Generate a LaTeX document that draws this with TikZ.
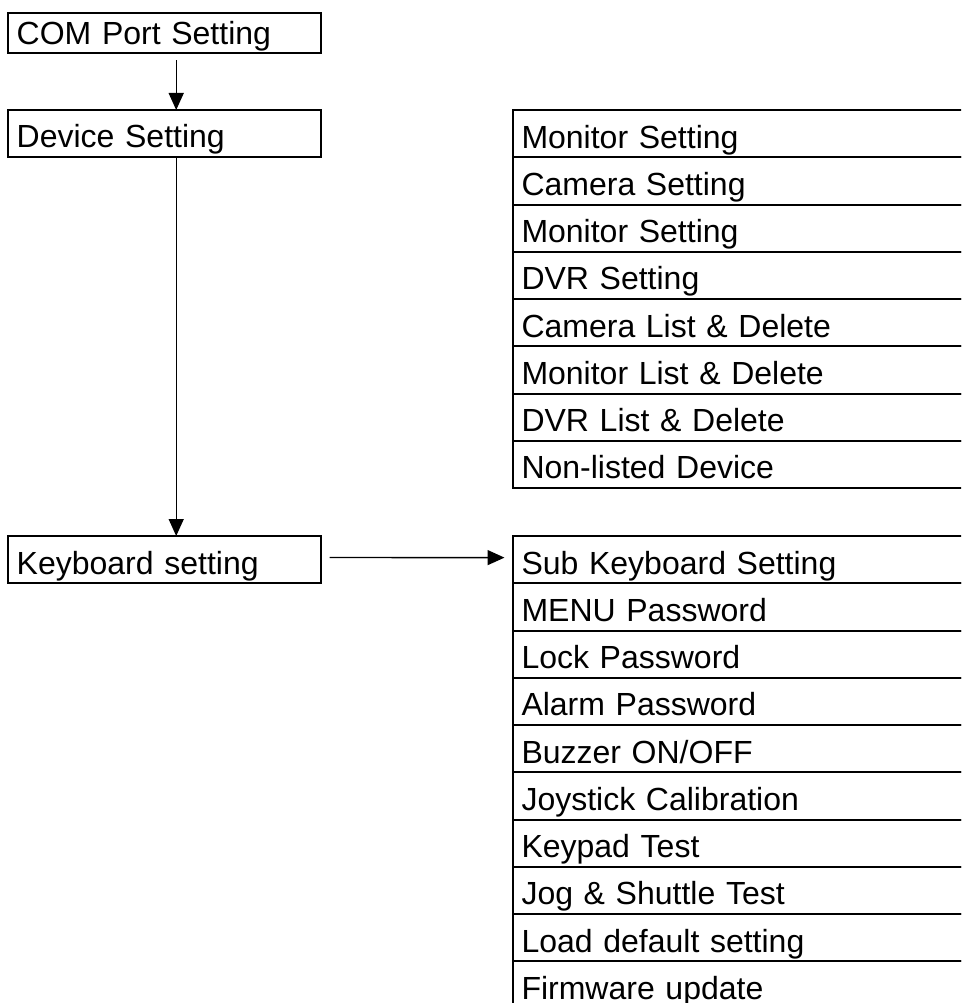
\documentclass[tikz,border=0pt]{standalone}
\usepackage{fontspec}
\setmainfont{Liberation Sans}
\usepackage{tikz}
\usetikzlibrary{positioning,arrows.meta}

\tikzset{
	menubox/.style={draw, line width=2pt, outer sep=0pt, inner xsep=9pt, inner ysep=0pt,
		text depth=9pt, align=left, font=\fontsize{32}{38}\selectfont},
	stagebox/.style={menubox, text width=295pt, minimum height=47pt, text height=38pt},
	rowbox/.style={menubox, text width=470pt, minimum height=47.25pt, text height=38pt},
	flow/.style={line width=1.4pt, -{Triangle[length=17pt,width=15pt]}}
}

\begin{document}
\begin{tikzpicture}[x=1pt,y=-1pt]
			\useasboundingbox (0,0) rectangle (961,1003);
			\clip (0,0) rectangle (961,1003);
			\node[stagebox, anchor=north west, minimum height=40pt, text height=31pt] (com) at (7.7,13.3) {COM Port Setting};
			\node[stagebox, anchor=north west] (dev) at (7.7,110) {Device Setting};
			\node[stagebox, anchor=north west] (kbd) at (7.7,536) {Keyboard setting};
			\node[rowbox, anchor=north west] (mon) at (512.5,110) {Monitor Setting};
			\node[rowbox, below=0pt of mon] (cam) {Camera Setting};
			\node[rowbox, below=0pt of cam] (montwo) {Monitor Setting};
			\node[rowbox, below=0pt of montwo] (dvr) {DVR Setting};
			\node[rowbox, below=0pt of dvr] (camlist) {Camera List \& Delete};
			\node[rowbox, below=0pt of camlist] (monlist) {Monitor List \& Delete};
			\node[rowbox, below=0pt of monlist] (dvrlist) {DVR List \& Delete};
			\node[rowbox, below=0pt of dvrlist] (nonlisted) {Non-listed Device};
			\node[rowbox, anchor=north west] (subkbd) at (512.5,536) {Sub Keyboard Setting};
			\node[rowbox, below=0pt of subkbd] (menupw) {MENU Password};
			\node[rowbox, below=0pt of menupw] (lockpw) {Lock Password};
			\node[rowbox, below=0pt of lockpw] (alarmpw) {Alarm Password};
			\node[rowbox, below=0pt of alarmpw] (buzzer) {Buzzer ON/OFF};
			\node[rowbox, below=0pt of buzzer] (joystick) {Joystick Calibration};
			\node[rowbox, below=0pt of joystick] (keypad) {Keypad Test};
			\node[rowbox, below=0pt of keypad] (jog) {Jog \& Shuttle Test};
			\node[rowbox, below=0pt of jog] (default) {Load default setting};
			\node[rowbox, below=0pt of default] (firmware) {Firmware update};
			\draw[flow] ([xshift=12pt,yshift=-7pt]com.south) -- ([xshift=12pt]dev.north);
			\draw[flow] ([xshift=12pt]dev.south) -- ([xshift=12pt]kbd.north);
			\draw[flow] ([xshift=9pt,yshift=2pt]kbd.east) -- ([xshift=-8pt,yshift=2pt]subkbd.west);
		\end{tikzpicture}
\end{document}
